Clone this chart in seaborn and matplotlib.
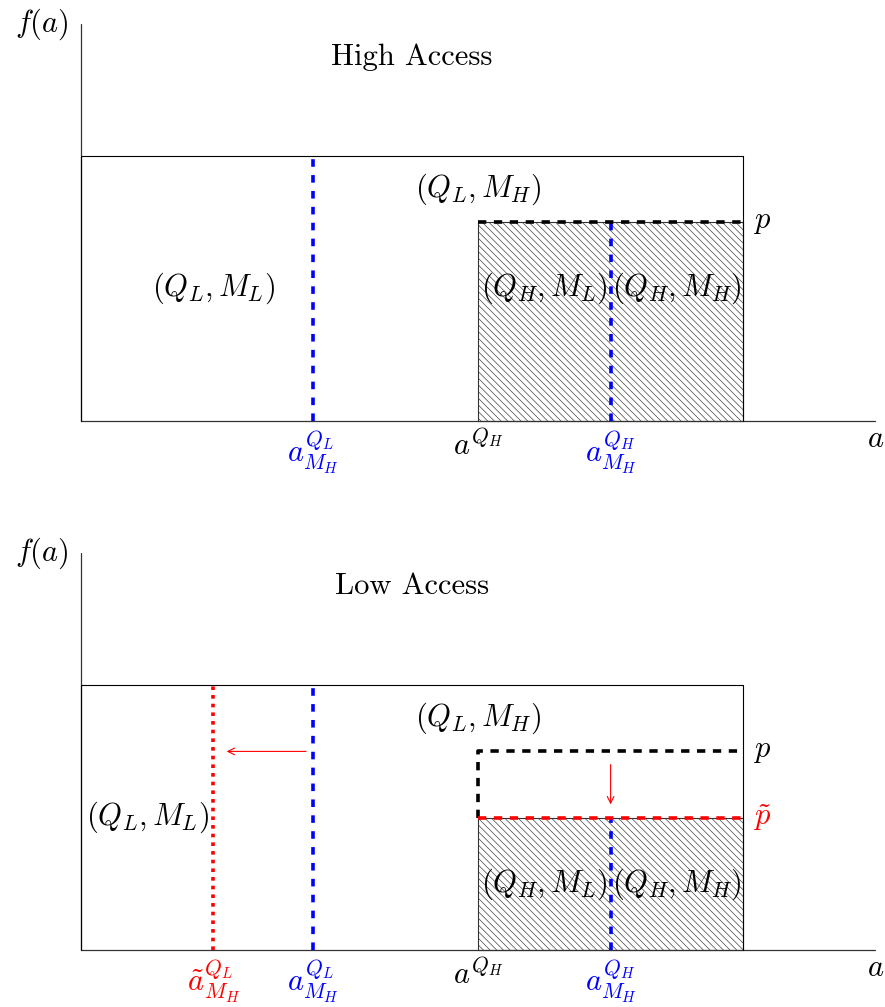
"""Two-panel access diagram: high vs low access, density f(a) over ability a."""

import matplotlib

matplotlib.use("Agg")

import matplotlib.pyplot as plt
import seaborn as sns

BLUE = "#0000FF"
RED = "#FF0000"
BLACK = "#000000"
AXIS_GREY = "#333333"

# diagram values (tikz-like units)
AXIS_X_END = 12.0
AXIS_Y_END = 6.0
RECT_W = 10.0
RECT_H = 4.0
A_QH = 6.0
A_QL_MH = 3.5
A_QH_MH = 8.0
A_QL_MH_TILDE = 2.0
P_HIGH = 3.0
P_TILDE = 2.0

PANEL_TITLES = ["High Access", "Low Access"]
REGION_LABELS = [r"$(Q_L, M_L)$", r"$(Q_L, M_H)$", r"$(Q_H, M_L)$", r"$(Q_H, M_H)$"]

PX = 66.2  # pixels per unit
FS = 22


def line(ax, xs, ys, **kw):
    sns.lineplot(x=xs, y=ys, estimator=None, sort=False, ax=ax, **kw)


def base(ax, title, share_top):
    # axes
    line(ax, [0, AXIS_X_END], [0, 0], color=AXIS_GREY, linewidth=0.9)
    line(ax, [0, 0], [0, AXIS_Y_END], color=AXIS_GREY, linewidth=0.9)
    ax.text(AXIS_X_END, -0.27, r"$a$", fontsize=FS, ha="center", va="center")
    ax.text(-0.19, AXIS_Y_END, r"$f(a)$", fontsize=FS, ha="right", va="center")
    # density box
    line(ax, [0, 0, RECT_W, RECT_W], [0, RECT_H, RECT_H, 0], color=BLACK, linewidth=0.8)
    # hatched high-quality region
    ax.add_patch(plt.Rectangle((A_QH, 0), RECT_W - A_QH, share_top, facecolor="none",
                               edgecolor="#333333", hatch="\\\\\\\\\\", linewidth=0.8))
    ax.text(5.0, 5.5, title, fontsize=FS, family="cmr10", ha="center", va="center")
    ax.text(A_QH, 3.5, REGION_LABELS[1], fontsize=FS, ha="center", va="center")


def setup(ax, ylo, yhi):
    ax.set_xlim(-81 / PX, (885 - 81) / PX)
    ax.set_ylim(ylo, yhi)
    ax.axis("off")


sns.set_theme(style="white")
plt.rcParams["mathtext.fontset"] = "cm"
plt.rcParams["hatch.linewidth"] = 0.45
plt.rcParams["hatch.color"] = "#666666"
plt.rcParams["text.color"] = BLACK
plt.rcParams["font.family"] = ["cmr10", "DejaVu Sans"]

fig = plt.figure(figsize=(8.85, 10.07), dpi=100)
H = 1007.0
ax1 = fig.add_axes([0, (H - 500) / H, 1, 500 / H])
ax2 = fig.add_axes([0, 0, 1, (H - 500) / H])
setup(ax1, -(500 - 421) / PX, 421 / PX)
setup(ax2, -(1007 - 950) / PX, (950 - 500) / PX)

LW = 2.6
blue_dash = dict(color=BLUE, linewidth=LW, linestyle=(0, (2.1, 2.3)), dash_capstyle="butt")
black_dash = dict(color=BLACK, linewidth=LW, linestyle=(0, (2.3, 2.1)), dash_capstyle="butt")
red_dot = dict(color=RED, linewidth=LW, linestyle=(0, (1.0, 1.4)), dash_capstyle="butt")
red_dash = dict(color=RED, linewidth=LW, linestyle=(0, (2.3, 2.1)), dash_capstyle="butt")

# ---- top: high access
base(ax1, PANEL_TITLES[0], P_HIGH)
line(ax1, [A_QL_MH, A_QL_MH], [0, RECT_H], **blue_dash)
line(ax1, [A_QH_MH, A_QH_MH], [0, P_HIGH], **blue_dash)
line(ax1, [A_QH, RECT_W], [P_HIGH, P_HIGH], **black_dash)
ax1.text(2.0, 2.0, REGION_LABELS[0], fontsize=FS, ha="center", va="center")
ax1.text(7.0, 2.0, REGION_LABELS[2], fontsize=FS, ha="center", va="center")
ax1.text(9.0, 2.0, REGION_LABELS[3], fontsize=FS, ha="center", va="center")
ax1.text(10.15, P_HIGH, r"$p$", fontsize=FS, ha="left", va="center")
ax1.text(A_QL_MH, -0.12, r"$a^{Q_L}_{M_H}$", fontsize=FS, color=BLUE, ha="center", va="top")
ax1.text(A_QH, -0.12, r"$a^{Q_H}$", fontsize=FS, ha="center", va="top")
ax1.text(A_QH_MH, -0.12, r"$a^{Q_H}_{M_H}$", fontsize=FS, color=BLUE, ha="center", va="top")

# ---- bottom: low access
base(ax2, PANEL_TITLES[1], P_TILDE)
line(ax2, [A_QL_MH, A_QL_MH], [0, RECT_H], **blue_dash)
line(ax2, [A_QL_MH_TILDE, A_QL_MH_TILDE], [0, RECT_H], **red_dot)
line(ax2, [A_QH_MH, A_QH_MH], [0, P_TILDE], **blue_dash)
line(ax2, [A_QH, A_QH, RECT_W], [P_TILDE, P_HIGH, P_HIGH], **black_dash)
line(ax2, [A_QH, RECT_W], [P_TILDE, P_TILDE], **red_dash)
ax2.annotate("", xy=(2.2, P_HIGH), xytext=(3.4, P_HIGH),
             arrowprops=dict(arrowstyle="->", color=RED, lw=0.8, shrinkA=0, shrinkB=0))
ax2.annotate("", xy=(A_QH_MH, 2.2), xytext=(A_QH_MH, 2.8),
             arrowprops=dict(arrowstyle="->", color=RED, lw=0.8, shrinkA=0, shrinkB=0))
ax2.text(1.0, 2.0, REGION_LABELS[0], fontsize=FS, ha="center", va="center")
ax2.text(7.0, 1.0, REGION_LABELS[2], fontsize=FS, ha="center", va="center")
ax2.text(9.0, 1.0, REGION_LABELS[3], fontsize=FS, ha="center", va="center")
ax2.text(10.15, P_HIGH, r"$p$", fontsize=FS, ha="left", va="center")
ax2.text(10.15, P_TILDE, r"$\tilde{p}$", fontsize=FS, color=RED, ha="left", va="center")
ax2.text(A_QL_MH_TILDE, -0.12, r"$\tilde{a}^{Q_L}_{M_H}$", fontsize=FS, color=RED, ha="center", va="top")
ax2.text(A_QL_MH, -0.12, r"$a^{Q_L}_{M_H}$", fontsize=FS, color=BLUE, ha="center", va="top")
ax2.text(A_QH, -0.12, r"$a^{Q_H}$", fontsize=FS, ha="center", va="top")
ax2.text(A_QH_MH, -0.12, r"$a^{Q_H}_{M_H}$", fontsize=FS, color=BLUE, ha="center", va="top")

fig.savefig("out.png", dpi=100, facecolor="white")
